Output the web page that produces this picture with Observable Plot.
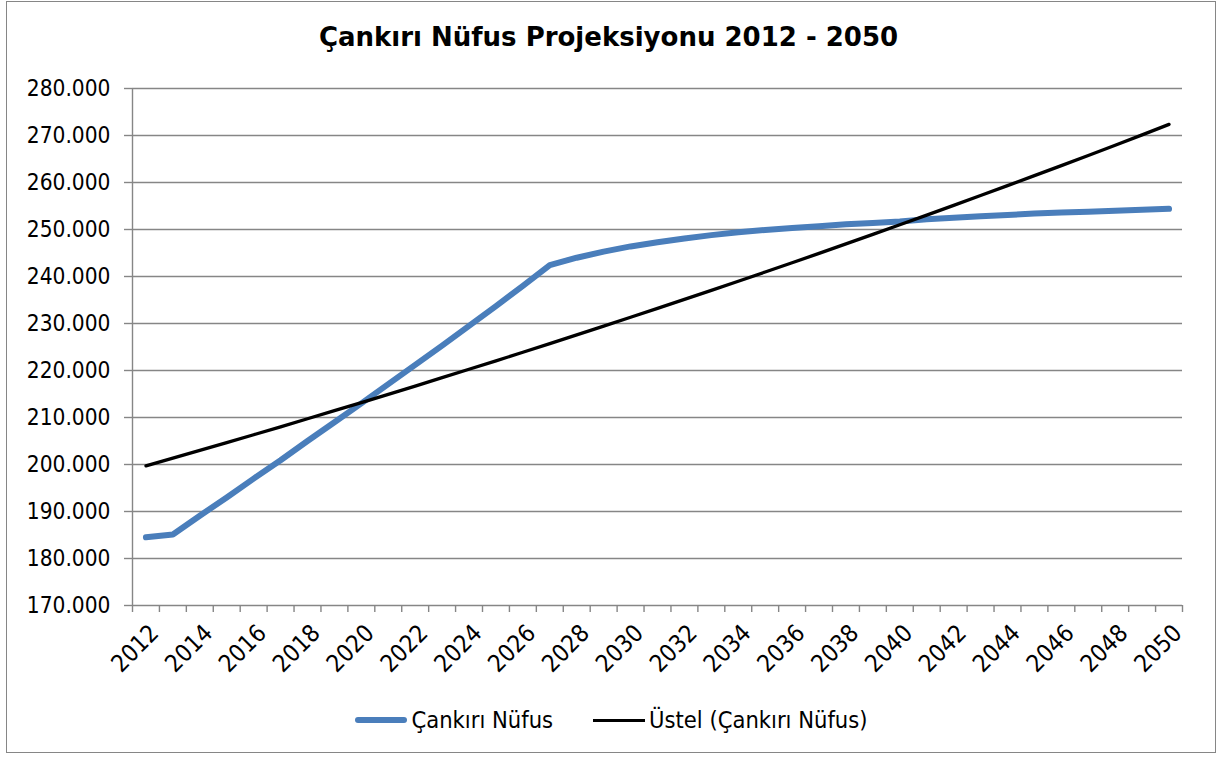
<!DOCTYPE html>
<html>
<head>
<meta charset="utf-8">
<script src="https://cdn.jsdelivr.net/npm/d3@7"></script>
<script src="https://cdn.jsdelivr.net/npm/@observablehq/plot@0.6"></script>
<style>
  body { margin: 0; background: #fff; }
  #wrap { position: relative; width: 1217px; height: 758px; overflow: hidden; background: #fff;
          font-family: "DejaVu Sans Condensed", "DejaVu Sans", sans-serif; font-stretch: condensed; }
  #frame { position: absolute; left: 6px; top: 1px; width: 1210px; height: 752px;
           border: 1.5px solid #868686; box-sizing: border-box; pointer-events: none; }
  #title { height: 70px; box-sizing: border-box; padding-top: 22px; line-height: 30px; text-align: center;
           font-family: "DejaVu Sans", sans-serif; font-stretch: normal; font-weight: bold; font-size: 26px; color: #000; }
  #chart svg { display: block; }
  #legend { height: 60px; display: flex; justify-content: center; align-items: center; gap: 40px;
            font-size: 23.5px; color: #000; padding-left: 6px; box-sizing: border-box; }
  .item { display: flex; align-items: center; }
  .sw { width: 52px; margin-right: 4px; border-radius: 3px; }
</style>
</head>
<body>
<div id="wrap">
  <div id="title">Çankırı Nüfus Projeksiyonu 2012 - 2050</div>
  <div id="chart"></div>
  <div id="legend">
    <div class="item"><div class="sw" style="height:6px;background:#4a7ebb"></div><span>Çankırı Nüfus</span></div>
    <div class="item"><div class="sw" style="height:3px;background:#000;border-radius:0"></div><span>Üstel (Çankırı Nüfus)</span></div>
  </div>
  <div id="frame"></div>
</div>
<script>
const years = [2012, 2013, 2014, 2015, 2016, 2017, 2018, 2019, 2020, 2021, 2022, 2023, 2024,
  2025, 2026, 2027, 2028, 2029, 2030, 2031, 2032, 2033, 2034, 2035, 2036, 2037, 2038, 2039,
  2040, 2041, 2042, 2043, 2044, 2045, 2046, 2047, 2048, 2049, 2050];

const population = [184500, 185100, 189100, 193000, 197000, 200900, 205000, 209000, 213000,
  217100, 221200, 225300, 229500, 233700, 238000, 242400, 244000, 245300, 246400, 247300,
  248100, 248800, 249400, 249900, 250300, 250700, 251100, 251400, 251700, 252200, 252500,
  252800, 253100, 253400, 253600, 253800, 254000, 254200, 254400];

const trend = [199700, 201340, 202990, 204650, 206330, 208020, 209730, 211450, 213180,
  214930, 216690, 218470, 220260, 222060, 223880, 225720, 227570, 229440, 231320, 233210,
  235130, 237050, 239000, 240960, 242930, 244920, 246930, 248960, 251000, 253060, 255130,
  257220, 259330, 261460, 263600, 265760, 267940, 270140, 272360];

const labelYears = [2012, 2014, 2016, 2018, 2020, 2022, 2024, 2026, 2028, 2030, 2032, 2034,
  2036, 2038, 2040, 2042, 2044, 2046, 2048, 2050];

const yTicks = [170000, 180000, 190000, 200000, 210000, 220000, 230000, 240000, 250000,
  260000, 270000, 280000];

const seriesNames = ["Çankırı Nüfus", "Üstel (Çankırı Nüfus)"];

const popData = years.map((year, i) => ({year, value: population[i], series: seriesNames[0]}));
const trendData = years.map((year, i) => ({year, value: trend[i], series: seriesNames[1]}));
const boundaries = years.map(y => y - 0.5).concat([years[years.length - 1] + 0.5]);

const trFormat = d3.formatLocale({decimal: ",", thousands: ".", grouping: [3], currency: ["", ""]}).format(",d");
const grid = "#868686";

const chart = Plot.plot({
  width: 1217,
  height: 620,
  marginTop: 18,
  marginBottom: 85,
  marginLeft: 132,
  marginRight: 35,
  style: {fontFamily: '"DejaVu Sans Condensed", "DejaVu Sans", sans-serif', fontSize: "22.5px", color: "#000", background: "transparent"},
  x: {type: "linear", domain: [boundaries[0], boundaries[boundaries.length - 1]], label: null},
  y: {domain: [yTicks[0], yTicks[yTicks.length - 1]], label: null},
  marks: [
    Plot.ruleY(yTicks, {stroke: grid, strokeWidth: 1.4}),
    Plot.ruleX([boundaries[0]], {stroke: grid, strokeWidth: 1.4}),
    Plot.axisY({ticks: yTicks, tickSize: 8, tickPadding: 14, tickFormat: trFormat, stroke: grid, strokeWidth: 1.4, fill: "#000", label: null}),
    Plot.axisX({ticks: boundaries, tickSize: 7, tickFormat: () => "", stroke: grid, strokeWidth: 1.4, label: null}),
    Plot.axisX({ticks: labelYears, tickSize: 0, tickPadding: 17, rotate: -45, textAnchor: "end", dx: 2, fontSize: 24, tickFormat: d => String(d), fill: "#000", label: null}),
    Plot.line(popData, {x: "year", y: "value", stroke: "#4a7ebb", strokeWidth: 6, strokeLinecap: "round", strokeLinejoin: "round"}),
    Plot.line(trendData, {x: "year", y: "value", stroke: "#000", strokeWidth: 3.3})
  ]
});
document.getElementById("chart").appendChild(chart);
</script>
</body>
</html>
